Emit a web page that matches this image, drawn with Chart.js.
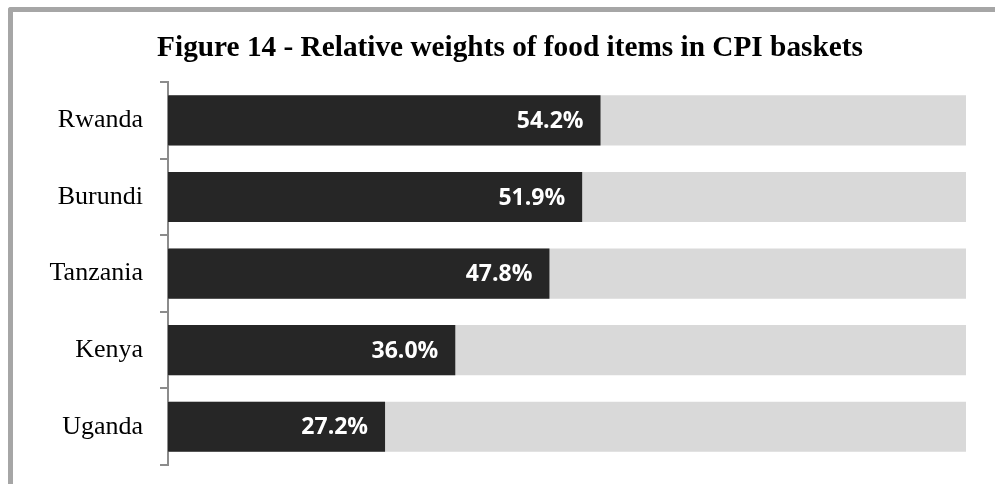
<!DOCTYPE html>
<html>
<head>
<meta charset="utf-8">
<script src="https://cdn.jsdelivr.net/npm/chart.js@4"></script>
<style>
  html, body { margin: 0; padding: 0; background: #fff; overflow: hidden; }
  #wrap { position: relative; width: 995px; height: 484px; overflow: hidden; }
  #frame {
    position: absolute; left: 8px; top: 7px; width: 1000px; height: 500px;
    border-top: 5px solid #a6a6a6; border-left: 5px solid #a6a6a6;
    border-top-left-radius: 3px;
  }
  #chart { position: absolute; left: 0; top: 0; }
</style>
</head>
<body>
<div id="wrap">
  <div id="frame"></div>
  <!-- canvas runs a little past the right edge so the title sits centred on the frame -->
  <canvas id="chart" width="1020" height="484"></canvas>
</div>
<script>
const countries = ['Rwanda', 'Burundi', 'Tanzania', 'Kenya', 'Uganda'];
const foodWeights = [54.2, 51.9, 47.8, 36.0, 27.2];
const fullBasket = [100, 100, 100, 100, 100];

// let the country names run into the left padding without being clipped
const widenLabelArea = {
  id: 'widenLabelArea',
  afterLayout(chart) {
    chart.scales.y.left = 0;
  }
};

// white percentage text just inside the end of each dark bar
const insideEndLabels = {
  id: 'insideEndLabels',
  afterDatasetsDraw(chart) {
    const ctx = chart.ctx;
    const meta = chart.getDatasetMeta(0);
    ctx.save();
    ctx.font = 'bold 23px "Open Sans", sans-serif';
    ctx.fillStyle = '#ffffff';
    ctx.textAlign = 'right';
    ctx.textBaseline = 'middle';
    meta.data.forEach((bar, i) => {
      ctx.fillText(foodWeights[i].toFixed(1) + '%', bar.x - 17, bar.y + 1);
    });
    ctx.restore();
  }
};

new Chart(document.getElementById('chart'), {
  type: 'bar',
  data: {
    labels: countries,
    datasets: [{
      label: 'Food',
      data: foodWeights,
      backgroundColor: '#262626',
      order: 1
    }, {
      label: 'Total',
      data: fullBasket,
      backgroundColor: '#d9d9d9',
      order: 2
    }]
  },
  options: {
    indexAxis: 'y',
    responsive: false,
    animation: false,
    barPercentage: 0.655,
    categoryPercentage: 1,
    layout: { padding: { left: 54, right: 54, top: 0, bottom: 19 } },
    plugins: {
      legend: { display: false },
      tooltip: { enabled: false },
      title: {
        display: true,
        text: 'Figure 14 - Relative weights of food items in CPI baskets',
        color: '#000',
        font: { family: '"Liberation Serif", "Times New Roman", serif', size: 29.3, weight: 'bold', lineHeight: 1.2 },
        padding: { top: 31, bottom: 16 }
      }
    },
    scales: {
      x: {
        min: 0,
        max: 100,
        stacked: false,
        display: false
      },
      y: {
        stacked: true,
        afterFit(scale) {
          scale.width = 114;
          scale.paddingTop = 0;
          scale.paddingBottom = 0;
        },
        border: { display: true, color: '#8c8c8c', width: 2 },
        grid: {
          offset: true,
          drawOnChartArea: false,
          drawTicks: true,
          tickLength: 8,
          color: '#8c8c8c',
          lineWidth: 2
        },
        ticks: {
          color: '#000',
          padding: 17,
          font: { family: '"Liberation Serif", "Times New Roman", serif', size: 26 }
        }
      }
    }
  },
  plugins: [widenLabelArea, insideEndLabels]
});
</script>
</body>
</html>
